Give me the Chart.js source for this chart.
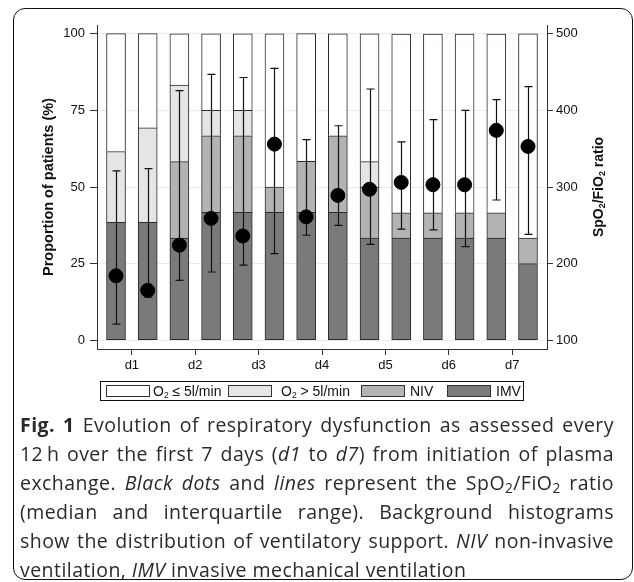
<!DOCTYPE html>
<html lang="en">
<head>
<meta charset="UTF-8" />
<title>Fig. 1</title>
<script src="https://cdn.jsdelivr.net/npm/chart.js@4.4.0/dist/chart.umd.min.js"></script>
<style>
  body { margin: 0; background: #fff; width: 634px; height: 582px; position: relative; overflow: hidden; font-family: "Liberation Sans", Arial, sans-serif; }
  #frame { position: absolute; left: 13px; top: 8px; width: 620px; height: 572px; box-sizing: border-box; border: 1.5px solid #111; border-radius: 12px; }
  #chart-wrap { position: absolute; left: 0; top: 0; width: 634px; height: 375px; }
  #legend { position: absolute; left: 100px; top: 381px; width: 424px; height: 20px; box-sizing: border-box; border: 1px solid #111; }
  .sw { position: absolute; top: 3px; width: 44px; height: 12px; box-sizing: border-box; border: 1px solid #333; }
  .lt { position: absolute; top: 0; font-size: 14px; line-height: 18px; color: #111; white-space: nowrap; }
  .lt sub { font-size: 8.5px; line-height: 0; vertical-align: -2px; }
  #caption { position: absolute; left: 20px; top: 410px; width: 594px; font-family: "Open Sans", sans-serif; font-size: 19.5px; letter-spacing: 0.45px; line-height: 29px; color: #2a2a2a; }
  #caption div { text-align: justify; text-align-last: justify; white-space: nowrap; }
  #caption div.last { text-align-last: left; }
  #caption sub { font-size: 0.7em; line-height: 0; vertical-align: -0.25em; }
</style>
</head>
<body>
<div id="chart-wrap"><canvas id="chart" width="634" height="375"></canvas></div>
<div id="legend">
  <div class="sw" style="left:5px;background:#ffffff"></div>
  <div class="lt" style="left:52px">O<sub>2</sub> ≤ 5l/min</div>
  <div class="sw" style="left:127px;background:#e5e5e5"></div>
  <div class="lt" style="left:180px">O<sub>2</sub> &gt; 5l/min</div>
  <div class="sw" style="left:260px;background:#b3b3b3"></div>
  <div class="lt" style="left:309px">NIV</div>
  <div class="sw" style="left:346px;background:#7a7a7a"></div>
  <div class="lt" style="left:395px">IMV</div>
</div>
<div id="caption">
  <div><b>Fig. 1</b> Evolution of respiratory dysfunction as assessed every</div>
  <div>12&thinsp;h over the first 7 days (<i>d1</i> to <i>d7</i>) from initiation of plasma</div>
  <div>exchange. <i>Black dots</i> and <i>lines</i> represent the SpO<sub>2</sub>/FiO<sub>2</sub> ratio</div>
  <div>(median and interquartile range). Background histograms</div>
  <div>show the distribution of ventilatory support. <i>NIV</i> non-invasive</div>
  <div class="last">ventilation, <i>IMV</i> invasive mechanical ventilation</div>
</div>
<div id="frame"></div>
<script>
  // one slot every 12 h, d1..d7
  const slots = [1, 2, 3, 4, 5, 6, 7, 8, 9, 10, 11, 12, 13, 14];
  const dayTicks = [1.5, 3.5, 5.5, 7.5, 9.5, 11.5, 13.5];
  const dayLabels = ["d1", "d2", "d3", "d4", "d5", "d6", "d7"];

  // proportion of patients (%)
  const imv = [38.5, 38.5, 33.3, 41.7, 41.7, 41.7, 41.7, 41.7, 33.3, 33.3, 33.3, 33.3, 33.3, 25.0];
  const niv = [0, 0, 25.0, 25.0, 25.0, 8.3, 16.7, 25.0, 16.7, 8.3, 8.3, 8.3, 8.3, 8.3];
  const o2High = [23.1, 30.8, 25.0, 8.3, 8.3, 0, 0, 0, 8.3, 0, 0, 0, 0, 0];
  const o2Low = [38.5, 30.8, 16.7, 25.0, 25.0, 50.0, 41.7, 33.3, 41.7, 58.3, 58.3, 58.3, 58.3, 66.7];

  // SpO2/FiO2 ratio, median and IQR
  const ratioMedian = [184, 165, 224, 259, 236, 356, 261, 289, 297, 306, 303, 303, 374, 353];
  const ratioQ1 = [121, 156, 178, 189, 198, 213, 237, 250, 225, 245, 244, 222, 283, 238];
  const ratioQ3 = [321, 324, 426, 447, 443, 455, 362, 380, 428, 359, 388, 400, 414, 431];

  const pctTicks = [0, 25, 50, 75, 100];
  const ratioTicks = [100, 200, 300, 400, 500];

  const ink = "#111";
  const tickFont = { family: "'Liberation Sans', Arial, sans-serif", size: 13 };

  function barSet(label, values, color, bottom) {
    return {
      type: "bar",
      label: label,
      data: slots.map((s, i) => ({ x: s, y: values[i] })),
      backgroundColor: color,
      borderColor: "#2a2a2a",
      borderWidth: { top: 1, left: 1, right: 1, bottom: bottom ? 1 : 0 },
      borderSkipped: false,
      barThickness: 19,
      yAxisID: "y",
      order: 1,
    };
  }

  const errorBars = {
    id: "errorBars",
    beforeDatasetDraw(chart, args) {
      if (args.index !== 0) return;
      const { ctx, scales: { x, y2 } } = chart;
      ctx.save();
      ctx.strokeStyle = ink;
      ctx.lineWidth = 1.2;
      slots.forEach((s, i) => {
        const px = Math.round(x.getPixelForValue(s)) + 0.5;
        const lo = y2.getPixelForValue(ratioQ1[i]);
        const hi = y2.getPixelForValue(ratioQ3[i]);
        ctx.beginPath();
        ctx.moveTo(px, lo); ctx.lineTo(px, hi);
        ctx.moveTo(px - 4, lo); ctx.lineTo(px + 4, lo);
        ctx.moveTo(px - 4, hi); ctx.lineTo(px + 4, hi);
        ctx.stroke();
      });
      ctx.restore();
    },
  };

  // right axis title reads bottom-to-top, with subscripts
  const rightTitle = {
    id: "rightTitle",
    afterDraw(chart) {
      const { ctx, chartArea } = chart;
      const parts = [["SpO", 14], ["2", 9], ["/FiO", 14], ["2", 9], [" ratio", 14]];
      ctx.save();
      ctx.translate(599, (chartArea.top + chartArea.bottom) / 2);
      ctx.rotate(-Math.PI / 2);
      ctx.fillStyle = ink;
      ctx.textBaseline = "middle";
      let total = 0;
      parts.forEach(([t, sz]) => {
        ctx.font = "bold " + sz + "px 'Liberation Sans', Arial, sans-serif";
        total += ctx.measureText(t).width;
      });
      let cx = -total / 2;
      parts.forEach(([t, sz]) => {
        ctx.font = "bold " + sz + "px 'Liberation Sans', Arial, sans-serif";
        ctx.fillText(t, cx, sz < 14 ? 4 : 0);
        cx += ctx.measureText(t).width;
      });
      ctx.restore();
    },
  };

  new Chart(document.getElementById("chart"), {
    type: "bar",
    data: {
      datasets: [
        {
          type: "scatter",
          label: "SpO2/FiO2",
          data: slots.map((s, i) => ({ x: s, y: ratioMedian[i] })),
          backgroundColor: "#000",
          borderColor: "#000",
          pointRadius: 7,
          yAxisID: "y2",
          order: 0,
        },
        barSet("IMV", imv, "#7a7a7a", true),
        barSet("NIV", niv, "#b3b3b3", false),
        barSet("O2 > 5l/min", o2High, "#e5e5e5", false),
        barSet("O2 <= 5l/min", o2Low, "#ffffff", false),
      ],
    },
    options: {
      responsive: false,
      animation: false,
      layout: { padding: { top: 25, left: 0, right: 0, bottom: 0 } },
      plugins: { legend: { display: false }, tooltip: { enabled: false } },
      scales: {
        x: {
          type: "linear",
          min: 0.4,
          max: 14.6,
          offset: false,
          stacked: true,
          afterBuildTicks: (s) => { s.ticks = dayTicks.map((v) => ({ value: v })); },
          afterFit: (s) => { s.height = 26; },
          ticks: {
            autoSkip: false,
            maxRotation: 0,
            padding: 3,
            color: ink,
            font: tickFont,
            callback: (v) => dayLabels[dayTicks.indexOf(v)],
          },
          grid: { offset: false, drawOnChartArea: false, tickLength: 6, tickColor: "#333", tickWidth: 1 },
          border: { color: "#333", width: 1 },
        },
        y: {
          position: "left",
          stacked: true,
          min: -2.9,
          max: 102.9,
          afterBuildTicks: (s) => { s.ticks = pctTicks.map((v) => ({ value: v })); },
          afterFit: (s) => { s.width = 97; },
          ticks: { padding: 5, color: ink, font: tickFont },
          grid: { color: "#e4eeee", tickLength: 7, tickColor: "#333", tickWidth: 1 },
          border: { color: "#333", width: 1 },
          title: {
            display: true,
            text: "Proportion of patients (%)",
            color: ink,
            font: { family: "'Liberation Sans', Arial, sans-serif", size: 14.5, weight: "bold" },
            padding: { top: 40, bottom: 0 },
          },
        },
        y2: {
          position: "right",
          min: 88.4,
          max: 511.6,
          afterBuildTicks: (s) => { s.ticks = ratioTicks.map((v) => ({ value: v })); },
          afterFit: (s) => { s.width = 87; },
          ticks: { padding: 3, color: ink, font: tickFont },
          grid: { drawOnChartArea: false, tickLength: 6, tickColor: "#333", tickWidth: 1 },
          border: { color: "#333", width: 1 },
        },
      },
    },
    plugins: [errorBars, rightTitle],
  });
</script>
</body>
</html>
